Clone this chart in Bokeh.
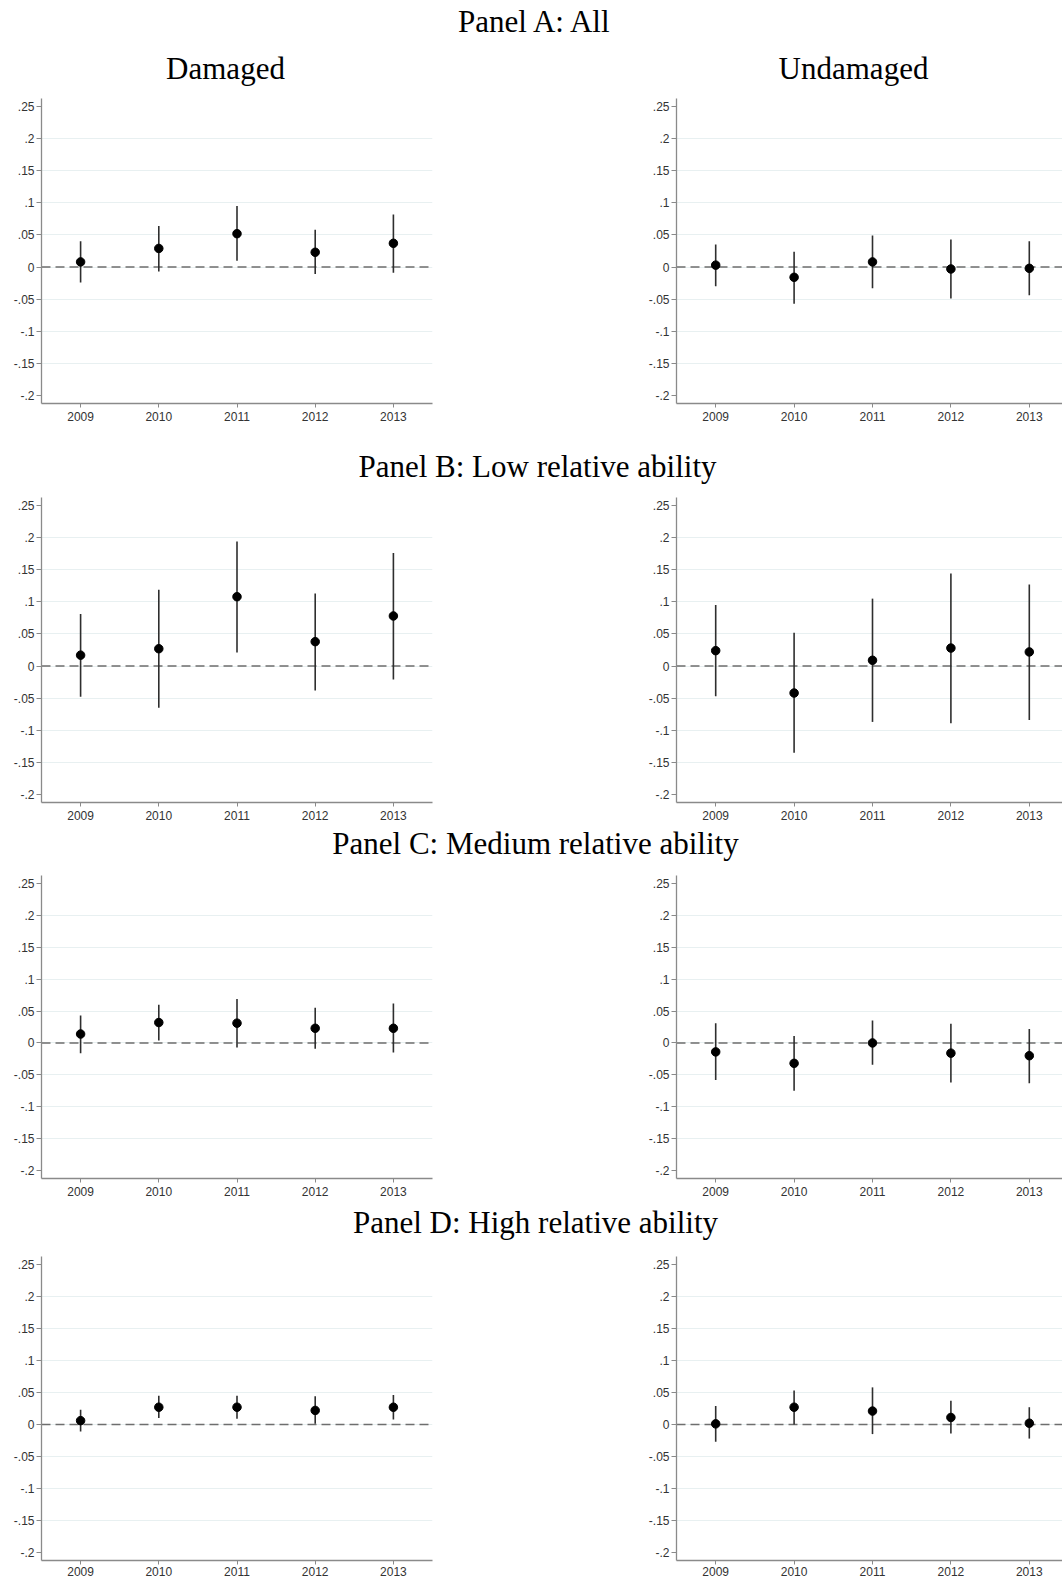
from bokeh.plotting import figure
from bokeh.models import Range1d, FixedTicker, Span, Label, ColumnDataSource
from bokeh.layouts import column, row
from bokeh.embed import file_html
from bokeh.resources import INLINE

# ---------------- data ----------------
years = [2009, 2010, 2011, 2012, 2013]
year_labels = ["2009", "2010", "2011", "2012", "2013"]
yticks = [-0.2, -0.15, -0.1, -0.05, 0, 0.05, 0.1, 0.15, 0.2, 0.25]
ytick_labels = ["-.2", "-.15", "-.1", "-.05", "0", ".05", ".1", ".15", ".2", ".25"]

panel_titles = ["Panel A: All", "Panel B: Low relative ability",
                "Panel C: Medium relative ability", "Panel D: High relative ability"]
column_titles = ["Damaged", "Undamaged"]

A_dam_est = [0.008, 0.029, 0.052, 0.023, 0.037]
A_dam_lo = [-0.024, -0.007, 0.010, -0.011, -0.009]
A_dam_hi = [0.040, 0.064, 0.095, 0.058, 0.082]

A_und_est = [0.003, -0.016, 0.008, -0.003, -0.002]
A_und_lo = [-0.030, -0.057, -0.033, -0.049, -0.044]
A_und_hi = [0.035, 0.024, 0.049, 0.043, 0.040]

B_dam_est = [0.017, 0.027, 0.108, 0.038, 0.078]
B_dam_lo = [-0.048, -0.065, 0.021, -0.038, -0.021]
B_dam_hi = [0.081, 0.119, 0.194, 0.113, 0.176]

B_und_est = [0.024, -0.042, 0.009, 0.028, 0.022]
B_und_lo = [-0.047, -0.135, -0.087, -0.089, -0.084]
B_und_hi = [0.095, 0.052, 0.105, 0.144, 0.127]

C_dam_est = [0.014, 0.032, 0.031, 0.023, 0.023]
C_dam_lo = [-0.016, 0.004, -0.007, -0.009, -0.015]
C_dam_hi = [0.043, 0.060, 0.069, 0.055, 0.062]

C_und_est = [-0.014, -0.032, 0.000, -0.016, -0.020]
C_und_lo = [-0.058, -0.075, -0.034, -0.062, -0.063]
C_und_hi = [0.031, 0.011, 0.035, 0.030, 0.022]

D_dam_est = [0.006, 0.027, 0.027, 0.022, 0.027]
D_dam_lo = [-0.011, 0.010, 0.009, 0.001, 0.008]
D_dam_hi = [0.023, 0.045, 0.045, 0.044, 0.046]

D_und_est = [0.001, 0.027, 0.021, 0.011, 0.002]
D_und_lo = [-0.027, 0.000, -0.015, -0.014, -0.022]
D_und_hi = [0.029, 0.053, 0.058, 0.037, 0.027]

# ---------------- style ----------------
SERIF = "Liberation Serif"
SANS = "Liberation Sans"
TITLE_SIZE = "31px"
AXIS_COLOR = "#8a8a8a"
LABEL_COLOR = "#333333"
GRID_COLOR = "#e8f0f1"


def title_fig(h, labels):
    p = figure(width=1062, height=h, x_range=Range1d(0, 1), y_range=Range1d(0, 1),
               output_backend="svg", toolbar_location=None, title=None,
               min_border=0, x_axis_location=None, y_axis_location=None,
               outline_line_color=None, border_fill_color="white",
               background_fill_color="white")
    p.grid.visible = False
    for text, xc, base in labels:
        p.add_layout(Label(x=xc, y=h - base, x_units="screen", y_units="screen",
                           text=text, text_align="center", text_baseline="alphabetic",
                           text_font=SERIF, text_font_size=TITLE_SIZE,
                           text_color="black"))
    return p


def panel(est, lo, hi, side, h, top, bottom, x_standoff=4):
    if side == "left":
        width, bl, br, x_end = 600, 41, 168, 2013.5
    else:
        width, bl, br, x_end = 462, 76, 0, 2008.5 + 386 / 78.4
    p = figure(width=width, height=h, x_range=Range1d(2008.5, x_end),
               y_range=Range1d(-0.2125, 0.2625), output_backend="svg",
               toolbar_location=None, title=None,
               min_border_left=bl, min_border_right=br,
               min_border_top=top, min_border_bottom=bottom,
               outline_line_color=None, border_fill_color="white",
               background_fill_color="white")
    p.xgrid.visible = False
    p.ygrid.ticker = FixedTicker(ticks=yticks[1:-1])
    p.ygrid.grid_line_color = GRID_COLOR
    p.ygrid.grid_line_width = 1

    p.xaxis.ticker = FixedTicker(ticks=years)
    p.xaxis.major_label_overrides = {y: l for y, l in zip(years, year_labels)}
    p.yaxis.ticker = FixedTicker(ticks=yticks)
    p.yaxis.major_label_overrides = {t: l for t, l in zip(yticks, ytick_labels)}

    for ax in p.axis:
        ax.axis_line_color = AXIS_COLOR
        ax.axis_line_width = 1.3
        ax.major_tick_line_color = AXIS_COLOR
        ax.major_tick_line_width = 1
        ax.major_tick_in = 0
        ax.major_tick_out = 5
        ax.minor_tick_line_color = None
        ax.major_label_text_font = SANS
        ax.major_label_text_font_size = "12px"
        ax.major_label_text_color = LABEL_COLOR
    p.yaxis.major_label_standoff = 2
    p.xaxis.major_tick_out = 4
    p.xaxis.major_label_standoff = x_standoff

    zero = Span(location=0, dimension="width", line_color="#6e6e6e",
                line_dash="9 5", line_width=1.5, level="underlay")
    p.add_layout(zero)

    src = ColumnDataSource(dict(x=years, est=est, lo=lo, hi=hi))
    p.segment(x0="x", y0="lo", x1="x", y1="hi", source=src,
              line_color="#2e2e2e", line_width=1.6)
    p.scatter(x="x", y="est", source=src, size=8.5,
              fill_color="black", line_color="black")
    return p


tA = title_fig(90, [(panel_titles[0], 535, 21), (column_titles[0], 225, 68),
                    (column_titles[1], 853, 68)])
rA = row(panel(A_dam_est, A_dam_lo, A_dam_hi, "left", 345, 8, 32),
         panel(A_und_est, A_und_lo, A_und_hi, "right", 345, 8, 32), spacing=0)

tB = title_fig(55, [(panel_titles[1], 537, 31)])
rB = row(panel(B_dam_est, B_dam_lo, B_dam_hi, "left", 336, 7, 24),
         panel(B_und_est, B_und_lo, B_und_hi, "right", 336, 7, 24), spacing=0)

tC = title_fig(42, [(panel_titles[2], 535, 17)])
rC = row(panel(C_dam_est, C_dam_lo, C_dam_hi, "left", 334, 7, 24),
         panel(C_und_est, C_und_lo, C_und_hi, "right", 334, 7, 24), spacing=0)

tD = title_fig(48, [(panel_titles[3], 535, 20)])
rD = row(panel(D_dam_est, D_dam_lo, D_dam_hi, "left", 329, 6, 19, x_standoff=2),
         panel(D_und_est, D_und_lo, D_und_hi, "right", 329, 6, 19, x_standoff=2),
         spacing=0)

layout = column(tA, rA, tB, rB, tC, rC, tD, rD, spacing=0)

open("out.html", "w").write(file_html(layout, INLINE))
